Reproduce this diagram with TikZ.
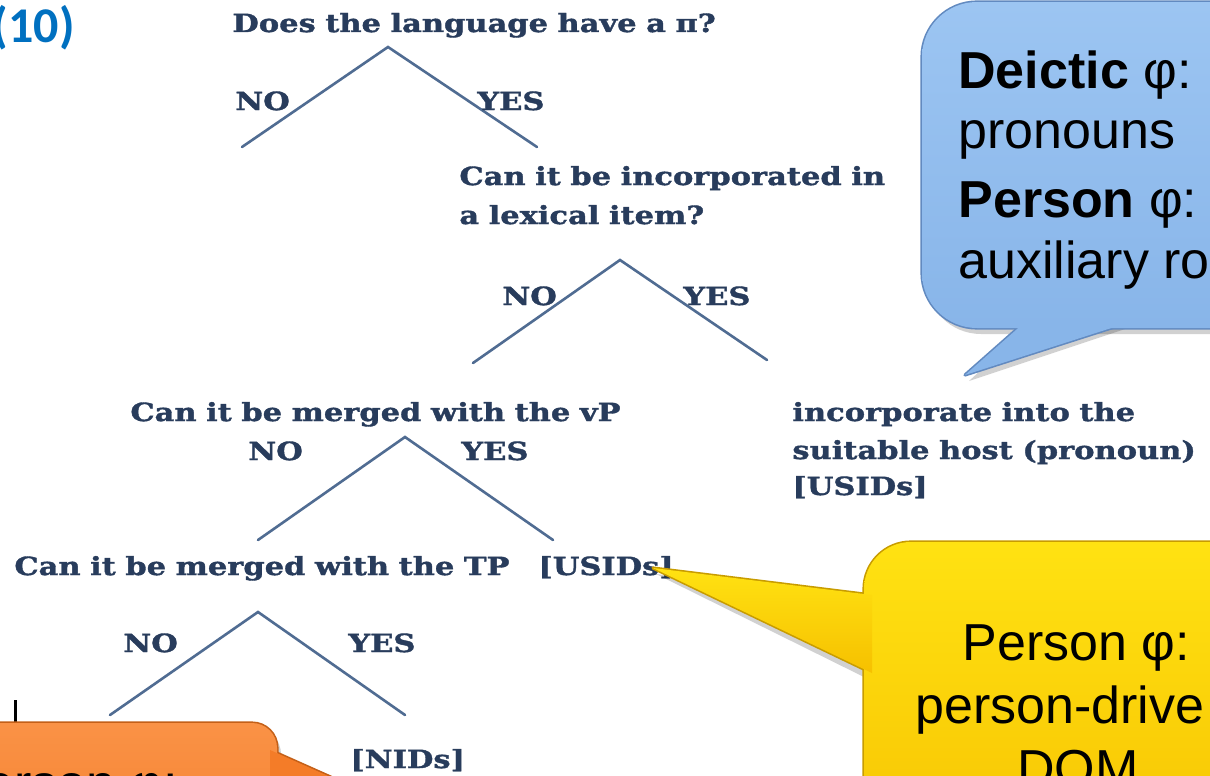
\documentclass[tikz,border=0pt]{standalone}
\usepackage{fontspec}
\usetikzlibrary{calc}
\newfontfamily\treefont{DejaVu Serif}[FakeStretch=1.22, WordSpace=0.9,
  BoldFeatures={FakeBold=1.5}]
\newfontfamily\numfont{Carlito}
\newfontfamily\calloutfont{Liberation Sans}

\definecolor{treetext}{RGB}{40,60,92}
\definecolor{treeline}{RGB}{80,108,146}
\definecolor{numblue}{RGB}{0,112,192}
\definecolor{blueTop}{RGB}{156,197,242}
\definecolor{blueBot}{RGB}{136,181,233}
\definecolor{blueEdge}{RGB}{98,138,192}
\definecolor{yellowTop}{RGB}{255,226,18}
\definecolor{yellowBot}{RGB}{246,192,0}
\definecolor{yellowEdge}{RGB}{200,156,0}
\definecolor{orangeTop}{RGB}{250,146,70}
\definecolor{orangeBot}{RGB}{244,124,40}
\definecolor{orangeEdge}{RGB}{196,96,24}

\begin{document}
\begin{tikzpicture}[x=0.5pt,y=-0.5pt,
  q/.style={font=\treefont\bfseries\fontsize{12.5}{15}\selectfont,
            text=treetext, inner sep=0pt, anchor=base west},
  branch/.style={draw=treeline, line width=1.3pt, line cap=round},
  say/.style={font=\calloutfont\fontsize{26}{31}\selectfont,
              text=black, inner sep=0pt, anchor=base west},
  shadowfill/.style={fill=black, opacity=0.18}
]
\useasboundingbox (0,0) rectangle (1210,776);
\clip (0,0) rectangle (1210,776);
\fill[white] (0,0) rectangle (1210,776);

% ---------- example number ----------
\node[font=\numfont\bfseries\fontsize{25}{30}\selectfont, text=numblue,
      inner sep=0pt, anchor=base east] (num) at (75,42) {(10)};

% ---------- decision tree ----------
\node[q] (q1) at (232,32) {Does the language have a π?};
\coordinate (a1) at (388,47);
\coordinate (a1l) at (242,147);
\coordinate (a1r) at (537,147);
\draw[branch] (a1l) -- (a1) -- (a1r);
\node[q] (n1) at (235,110) {NO};
\node[q] (y1) at (477,110) {YES};

\node[q] (q2a) at (459,185) {Can it be incorporated in};
\node[q] (q2b) at (459,224) {a lexical item?};
\coordinate (a2) at (620,260);
\coordinate (a2l) at (473,363);
\coordinate (a2r) at (767,360);
\draw[branch] (a2l) -- (a2) -- (a2r);
\node[q] (n2) at (502,305) {NO};
\node[q] (y2) at (683,305) {YES};

\node[q] (q3) at (130,421) {Can it be merged with the vP};
\node[q] (n3) at (248,460) {NO};
\node[q] (y3) at (461,460) {YES};
\coordinate (a3) at (405,437);
\coordinate (a3l) at (258,540);
\coordinate (a3r) at (553,540);
\draw[branch] (a3l) -- (a3) -- (a3r);

\node[q] (inc1) at (792,421) {incorporate into the};
\node[q] (inc2) at (792,459) {suitable host (pronoun)};
\node[q] (inc3) at (792,495) {[USIDs]};

\node[q] (q4) at (14,575) {Can it be merged with the TP};
\node[q] (usid) at (538,575) {[USIDs]};
\coordinate (usidtip) at (653,568);

\coordinate (a4) at (258,612);
\coordinate (a4l) at (110,715);
\coordinate (a4r) at (405,715);
\draw[branch] (a4l) -- (a4) -- (a4r);
\node[q] (n4) at (123,652) {NO};
\node[q] (y4) at (348,652) {YES};
\node[q] (nid) at (350,768) {[NIDs]};

% small text cursor on the left
\draw[line width=1.5pt] (15,700) -- (15,724);

% ---------- blue callout ----------
\coordinate (btip) at (965,375);
\fill[shadowfill] (926,8) [rounded corners=27.5pt] rectangle (1300,334);
\fill[shadowfill] (1029,326) -- ($(btip)+(4,6)$) -- (1134,326) -- cycle;
\draw[blueEdge, line width=1.6pt, rounded corners=27.5pt] (922,2) rectangle (1300,328);
\draw[blueEdge, line width=1.6pt, line join=round] (1025,322) -- (btip) -- (1130,322);
\shade[top color=blueTop, bottom color=blueBot, rounded corners=27.5pt] (922,2) rectangle (1300,328);
\fill[blueBot] (1025,322) -- (btip) -- (1130,322) -- cycle;
\node[say] (b1) at (958,88) {\textbf{Deictic} φ:};
\node[say] (b2) at (958,148) {pronouns};
\node[say] (b3) at (958,217) {\textbf{Person} φ:};
\node[say] (b4) at (958,278) {auxiliary ro};

% ---------- yellow callout ----------
\fill[shadowfill] (868,548) [rounded corners=23.5pt] rectangle (1300,900);
\fill[shadowfill] (870,600) -- ($(usidtip)+(3,6)$) -- (870,680) -- cycle;
\draw[yellowEdge, line width=1.6pt, rounded corners=23.5pt] (864,542) rectangle (1300,900);
\draw[yellowEdge, line width=1.6pt, line join=round] (872,595) -- (usidtip) -- (872,673);
\shade[top color=yellowTop, bottom color=yellowBot, rounded corners=23.5pt] (864,542) rectangle (1300,900);
\shade[top color=yellowTop, bottom color=yellowBot] (872,595) -- (usidtip) -- (872,673) -- cycle;
\node[say] (p1) at (962,660) {Person φ:};
\node[say] (p2) at (915,723) {person-drive};
\node[say] (p3) at (1017,786) {DOM};

% ---------- orange callout ----------
\coordinate (otip) at (335,779);
\fill[shadowfill] (-56,729) [rounded corners=12.5pt] rectangle (281,900);
\draw[orangeEdge, line width=1.6pt, rounded corners=12.5pt] (-60,723) rectangle (277,900);
\draw[orangeEdge, line width=1.6pt, line join=round] (270,750) -- (otip) -- (270,812);
\shade[top color=orangeTop, bottom color=orangeBot, rounded corners=12.5pt] (-60,723) rectangle (277,900);
\fill[orangeBot] (270,750) -- (otip) -- (270,812) -- cycle;
\node[say] (o1) at (-15,801) {erson φ:};
\end{tikzpicture}
\end{document}
